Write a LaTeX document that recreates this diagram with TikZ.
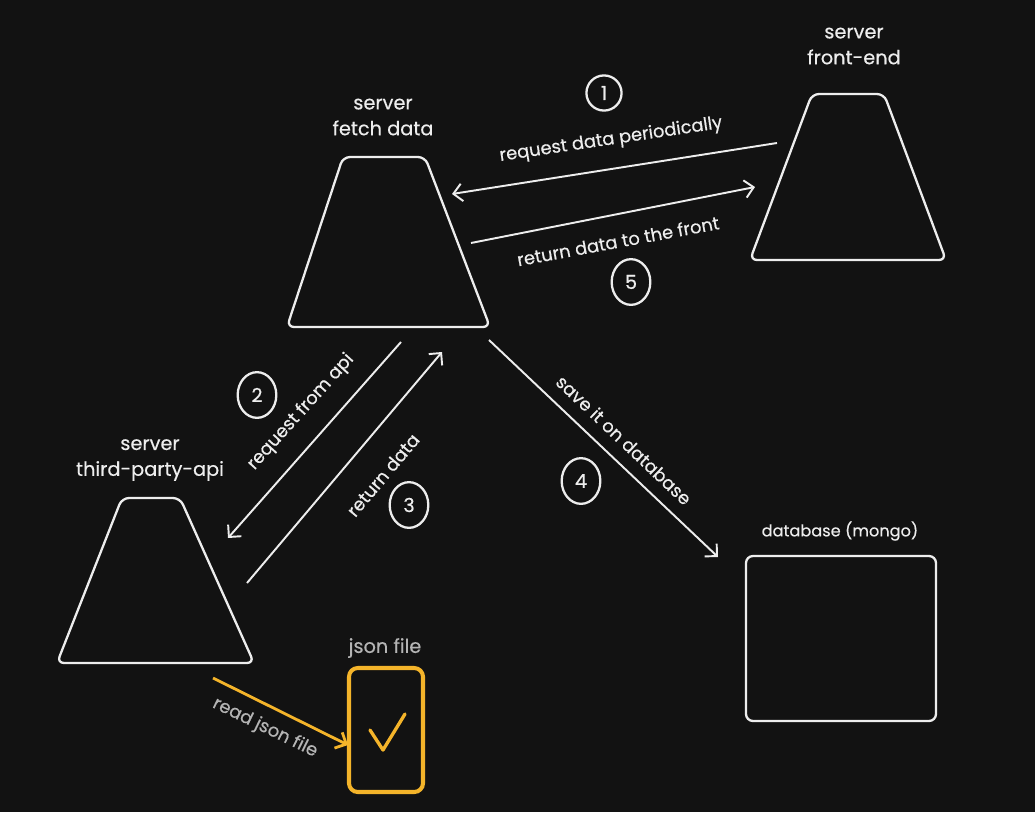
\documentclass[tikz,border=0pt]{standalone}
\usepackage{fontspec}
\setmainfont{Poppins}[FakeBold=0.4]
\usetikzlibrary{arrows.meta,shapes.geometric}
\definecolor{bg}{HTML}{121212}
\definecolor{ink}{HTML}{EDEDED}
\definecolor{dim}{HTML}{B4B4B4}
\definecolor{gold}{HTML}{F4B42A}
\tikzset{
  shapeline/.style={draw=ink,line width=1.3pt,rounded corners=4pt},
  conn/.style={draw=ink,line width=1.1pt,-{Straight Barb[length=5pt,width=10pt,line width=1.1pt]}},
  lbl/.style={text=ink,font=\fontsize{10.2}{12}\selectfont,inner sep=0pt},
  ttl/.style={text=ink,font=\fontsize{11}{14.7}\selectfont,align=center,inner sep=0pt},
  num/.style={draw=ink,line width=1.3pt,ellipse,minimum width=22pt,minimum height=26pt,inner sep=0pt,text=ink,font=\fontsize{11}{12}\selectfont},
}
\begin{document}
\begin{tikzpicture}[x=0.02cm,y=-0.02cm]
\fill[bg] (0,0) rectangle (1035,812);
\useasboundingbox (0,0) rectangle (1035,812);
% trapezoids
\draw[shapeline] (287,327) -- (343,157) -- (425,157) -- (490,327) -- cycle;
\draw[shapeline] (750,260) -- (812,94) -- (884,94) -- (946,260) -- cycle;
\draw[shapeline] (57,663) -- (122,498) -- (180,498) -- (254,663) -- cycle;
% database
\draw[shapeline] (746,556) rectangle (936,721);
% json file
\draw[draw=gold,line width=2.3pt,rounded corners=5pt] (349,668) rectangle (423,792);
\draw[draw=gold,line width=1.9pt,line cap=round,line join=round] (370,730) -- (383,750) -- (405,714);
% titles
\node[ttl] (tfetch) at (383,117) {server\\fetch data};
\node[ttl] (tfront) at (854,46) {server\\front-end};
\node[ttl] (tapi) at (150,460) {server\\third-party-api};
\node[ttl,font=\fontsize{9.2}{12}\selectfont] (tdb) at (840,531) {database (mongo)};
\node[ttl,text=dim] (tjson) at (385,648) {json file};
% numbers
\node[num,minimum width=20pt,minimum height=20pt] (n1) at (604,93) {1};
\node[num] (n2) at (257,395) {2};
\node[num] (n3) at (409,505) {3};
\node[num] (n4) at (581,481) {4};
\node[num] (n5) at (631,282) {5};
% connector endpoints
\coordinate (a1s) at (777,143); \coordinate (a1e) at (452,194);
\coordinate (a5s) at (471,243); \coordinate (a5e) at (755,187);
\coordinate (a2s) at (401,342); \coordinate (a2e) at (228,538);
\coordinate (a3s) at (247,583); \coordinate (a3e) at (442,352);
\coordinate (a4s) at (489,340); \coordinate (a4e) at (718,557);
\coordinate (a6s) at (213,678); \coordinate (a6e) at (348,745);
\draw[conn] (a1s) -- (a1e);
\draw[conn] (a5s) -- (a5e);
\draw[conn] (a2s) -- (a2e);
\draw[conn] (a3s) -- (a3e);
\draw[conn] (a4s) -- (a4e);
\draw[conn,draw=gold,line width=1.6pt,-{Straight Barb[length=5pt,width=10pt,line width=1.6pt]}] (a6s) -- (a6e);
% labels
\node[lbl,rotate=8.5] (l1) at (611,140) {request data periodically};
\node[lbl,rotate=10.5] (l5) at (618,241) {return data to the front};
\node[lbl,rotate=48] (l2) at (301,412) {request from api};
\node[lbl,rotate=50] (l3) at (383,475) {return data};
\node[lbl,rotate=-43.5] (l4) at (624,440) {save it on database};
\node[lbl,rotate=-26,text=dim] (l6) at (265,728) {read json file};
\end{tikzpicture}
\end{document}
